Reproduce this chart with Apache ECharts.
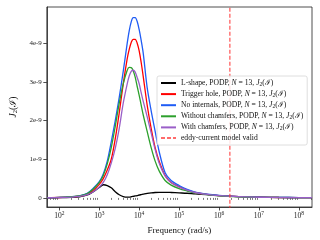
<!DOCTYPE html>
<html><head><meta charset="utf-8">
<script src="https://cdn.jsdelivr.net/npm/echarts@6/dist/echarts.min.js"></script>
<style>html,body{margin:0;padding:0;background:#fff}#c{width:320px;height:240px}</style>
</head><body><div id="c"></div>
<script>
// frequency (rad/s)
const freq = [50,100,200,316,501,708,1000,1259,1585,1995,2512,3162,3981,5012,5623,6310,7079,7943,8913,10000,11220,12589,15849,19953,25119,31623,44668,63096,1e5,158489,251189,501187,1e6,3.162e6,1e7,3.162e7,1e8,2.14e8];
// J2 values in units of 1e-9
const lshape =      [0.002,0.006,0.015,0.03,0.075,0.16,0.27,0.34,0.32,0.26,0.16,0.08,0.035,0.02,0.022,0.03,0.04,0.05,0.062,0.075,0.085,0.095,0.115,0.13,0.14,0.145,0.145,0.14,0.13,0.12,0.105,0.085,0.06,0.035,0.018,0.012,0.009,0.008];
const trigger =     [0.005,0.01,0.025,0.045,0.1,0.2,0.35,0.5,0.72,1.0,1.53,2.2,2.95,3.6,3.84,4.02,4.1,4.1,4.0,3.8,3.5,3.15,2.4,1.8,1.3,0.95,0.58,0.4,0.29,0.2,0.14,0.09,0.06,0.032,0.017,0.011,0.009,0.008];
const nointernals = [0.005,0.012,0.03,0.055,0.12,0.25,0.42,0.62,0.95,1.45,2.0,2.6,3.27,4.0,4.32,4.55,4.66,4.66,4.56,4.35,4.07,3.75,2.85,2.25,1.72,1.2,0.65,0.45,0.32,0.22,0.15,0.095,0.065,0.035,0.018,0.012,0.009,0.008];
const withoutCham = [0.005,0.012,0.03,0.05,0.11,0.23,0.4,0.58,0.88,1.3,1.85,2.45,2.95,3.3,3.375,3.37,3.29,3.12,2.88,2.65,2.4,2.15,1.72,1.3,0.95,0.7,0.45,0.33,0.24,0.18,0.13,0.085,0.055,0.03,0.016,0.011,0.009,0.008];
const withCham =    [0.004,0.01,0.022,0.04,0.085,0.16,0.28,0.4,0.6,0.9,1.28,1.8,2.45,2.95,3.15,3.27,3.3,3.25,3.11,2.95,2.72,2.5,2.1,1.68,1.25,0.9,0.56,0.39,0.28,0.2,0.14,0.09,0.06,0.032,0.017,0.011,0.009,0.008];
const validFreq = 1.87e6;
const xTicks = [1e2,1e3,1e4,1e5,1e6,1e7,1e8];
const yTicks = [0,1,2,3,4];
const names = ['L-shape','Trigger hole','No internals','Without chamfers','With chamfers'];
const validName = 'eddy-current model valid';

const XMIN = 48.5, XMAX = 2.14e8, YMIN = -0.235, YMAX = 4.935;
const minors = [];
for (let k = 1; k <= 8; k++) for (let m = 2; m <= 9; m++) { const v = m * Math.pow(10, k); if (v >= XMIN && v <= XMAX) minors.push(v); }

const FONT = 'Liberation Serif';
const AX = '#222';
const colors = ['#000000','#ff0000','#1f5cf5','#2ca02c','#9a5fc8'];
const seriesData = [lshape, trigger, nointernals, withoutCham, withCham];

const series = seriesData.map((arr, i) => ({
  name: names[i], type: 'line', xAxisIndex: 0, symbol: 'none', smooth: 0.3,
  lineStyle: {color: colors[i], width: 1.3}, itemStyle: {color: colors[i]},
  data: freq.map((f, j) => [f, arr[j]])
}));
series.push({
  name: validName, type: 'line', xAxisIndex: 0, symbol: 'none',
  lineStyle: {color: 'rgba(255,50,50,0.72)', width: 1.4, type: [4, 2]}, itemStyle: {color: 'rgba(255,40,40,0.9)'},
  data: [[validFreq, YMIN - 1], [validFreq, YMAX + 1]]
});

const chart = echarts.init(document.getElementById('c'), null, {renderer: 'canvas'});
chart.setOption({
  animation: false,
  grid: {left: 37, right: 8, top: 7, bottom: 31, show: true, borderColor: AX, borderWidth: 0.8},
  xAxis: [{
    type: 'log', logBase: 10, min: XMIN, max: XMAX,
    axisLine: {onZero: false, lineStyle: {color: AX, width: 0.8}},
    axisTick: {customValues: xTicks, length: 3.5, lineStyle: {color: AX, width: 0.8}},
    axisLabel: {customValues: xTicks, margin: 4, color: '#222', fontFamily: FONT,
      formatter: v => '{b|10}{e|' + Math.round(Math.log10(v)) + '}',
      rich: {b: {fontFamily: FONT, fontSize: 7.5, color: '#222'}, e: {fontFamily: FONT, fontSize: 5.5, color: '#222', padding: [0, 0, 5, 0]}}},
    splitLine: {show: false},
    name: 'Frequency (rad/s)', nameLocation: 'middle', nameGap: 19,
    nameTextStyle: {fontFamily: FONT, fontSize: 9, color: '#111'}
  }, {
    type: 'log', logBase: 10, min: XMIN, max: XMAX, position: 'bottom',
    axisLine: {show: false},
    axisTick: {customValues: minors, length: 2, lineStyle: {color: AX, width: 0.6}},
    axisLabel: {show: false}, splitLine: {show: false}
  }],
  yAxis: {
    type: 'value', min: YMIN, max: YMAX,
    axisLine: {show: true, onZero: false, lineStyle: {color: AX, width: 0.8}},
    axisTick: {show: true, customValues: yTicks, length: 3.5, lineStyle: {color: AX, width: 0.8}},
    axisLabel: {customValues: yTicks, margin: 5, fontFamily: FONT, fontSize: 7, color: '#222',
      formatter: v => v === 0 ? '0' : v + 'e-9'},
    splitLine: {show: false},
    name: '{j|J}{s|2}{p|(ℐ)}', nameLocation: 'middle', nameGap: 22,
    nameTextStyle: {fontFamily: FONT, fontSize: 9, color: '#111',
      rich: {j: {fontFamily: FONT, fontStyle: 'italic', fontSize: 9.5, color: '#111'},
             s: {fontFamily: FONT, fontSize: 6.5, color: '#111', padding: [4, 0, 0, 0]},
             p: {fontFamily: FONT, fontSize: 9.5, color: '#111'}}}
  },
  legend: {
    orient: 'vertical', left: 157, top: 76, padding: [2.5, 4, 3, 3],
    itemWidth: 15, itemHeight: 8, itemGap: 2.1,
    itemStyle: {opacity: 0},
    backgroundColor: 'rgba(255,255,255,0.85)', borderColor: '#d6d6d6', borderWidth: 0.8, borderRadius: 2,
    data: names.concat([validName]),
    textStyle: {fontFamily: FONT, fontSize: 7.6, color: '#111', lineHeight: 8,
      rich: {i: {fontFamily: FONT, fontStyle: 'italic', fontSize: 7.6, color: '#111', lineHeight: 8},
             s: {fontFamily: FONT, fontSize: 5.5, color: '#111', padding: [3, 0, 0, 0], lineHeight: 8}}},
    formatter: n => n === validName ? n : n + ', PODP, {i|N} = 13, {i|J}{s|2}(ℐ)'
  },
  series: series
});
</script></body></html>
